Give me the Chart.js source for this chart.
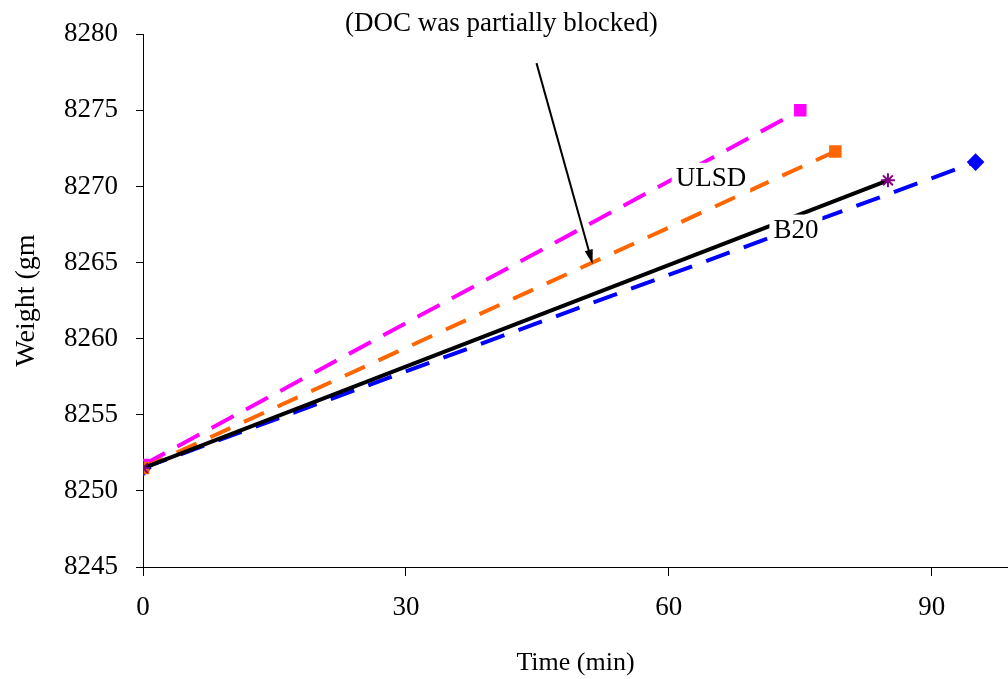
<!DOCTYPE html>
<html>
<head>
<meta charset="utf-8">
<script src="https://cdn.jsdelivr.net/npm/chart.js@4"></script>
<style>
  html, body { margin: 0; padding: 0; background: #fff; }
  #wrap { width: 1008px; height: 679px; position: relative; }
</style>
</head>
<body>
<div id="wrap"><canvas id="weightChart"></canvas></div>
<script>
// values: time (min) -> weight (gm)
const ulsdTime = [0, 75];
const ulsdWeight = [8251.7, 8275.0];
const docTime = [0, 79];
const docWeight = [8251.5, 8272.3];
const b20Time = [0, 85];
const b20Weight = [8251.5, 8270.4];
const blueTime = [0, 95];
const blueWeight = [8251.5, 8271.6];

const xTicks = [0, 30, 60, 90];
const yMin = 8245, yMax = 8280, yStep = 5;
const xMin = 0, xMax = 98.7;

const font = 'Liberation Serif, Times New Roman, serif';

function pts(xs, ys) {
  return xs.map((x, i) => ({ x: x, y: ys[i] }));
}

// text labels + arrow drawn on top of the lines
const notes = {
  id: 'notes',
  afterDatasetsDraw(chart) {
    const ctx = chart.ctx;
    const xs = chart.scales.x, ys = chart.scales.y;
    const px = v => xs.getPixelForValue(v);
    const py = v => ys.getPixelForValue(v);
    ctx.save();
    ctx.font = '27px ' + font;
    ctx.textAlign = 'center';
    ctx.textBaseline = 'middle';

    function boxed(text, x, y) {
      const w = ctx.measureText(text).width;
      ctx.fillStyle = '#fff';
      ctx.fillRect(px(x) - w / 2 - 4, py(y) - 16, w + 8, 32);
      ctx.fillStyle = '#000';
      ctx.fillText(text, px(x), py(y));
    }
    boxed('ULSD', 64.8, 8270.5);
    boxed('B20', 74.5, 8267.1);

    ctx.fillStyle = '#000';
    ctx.fillText('(DOC was partially blocked)', px(40.9), py(8280.7));

    // arrow
    const x0 = px(44.9), y0 = py(8278.1), x1 = px(51.3), y1 = py(8264.9);
    const ang = Math.atan2(y1 - y0, x1 - x0);
    ctx.strokeStyle = '#000';
    ctx.lineWidth = 2;
    ctx.beginPath();
    ctx.moveTo(x0, y0);
    ctx.lineTo(x1 - 10 * Math.cos(ang), y1 - 10 * Math.sin(ang));
    ctx.stroke();
    ctx.beginPath();
    ctx.moveTo(x1, y1);
    ctx.lineTo(x1 - 15 * Math.cos(ang - 0.28), y1 - 15 * Math.sin(ang - 0.28));
    ctx.lineTo(x1 - 15 * Math.cos(ang + 0.28), y1 - 15 * Math.sin(ang + 0.28));
    ctx.closePath();
    ctx.fill();
    ctx.restore();
  }
};

new Chart(document.getElementById('weightChart'), {
  type: 'scatter',
  data: {
    datasets: [
      {
        label: 'blue',
        data: pts(blueTime, blueWeight),
        showLine: true,
        order: 3,
        borderColor: '#0000ff',
        backgroundColor: '#0000ff',
        borderWidth: 4,
        borderDash: [25, 15],
        pointStyle: 'rectRot',
        pointRadius: 6
      },
      {
        label: 'B20',
        data: pts(b20Time, b20Weight),
        showLine: true,
        order: 0,
        borderColor: '#000000',
        backgroundColor: '#800080',
        borderWidth: 4,
        pointStyle: 'star',
        pointBorderColor: '#800080',
        pointBorderWidth: 2,
        pointRadius: 7
      },
      {
        label: 'DOC',
        data: pts(docTime, docWeight),
        showLine: true,
        order: 1,
        borderColor: '#ff6600',
        backgroundColor: '#ff6600',
        borderWidth: 4,
        borderDash: [22, 15],
        pointStyle: 'rect',
        pointRadius: 6
      },
      {
        label: 'ULSD',
        data: pts(ulsdTime, ulsdWeight),
        showLine: true,
        order: 2,
        borderColor: '#ff00ff',
        backgroundColor: '#ff00ff',
        borderWidth: 4,
        borderDash: [25, 14],
        pointStyle: 'rect',
        pointRadius: 6
      }
    ]
  },
  options: {
    responsive: true,
    maintainAspectRatio: false,
    animation: false,
    layout: { autoPadding: false, padding: { top: 31, right: 0, left: 0, bottom: 0 } },
    plugins: {
      legend: { display: false },
      tooltip: { enabled: false }
    },
    scales: {
      x: {
        type: 'linear',
        min: xMin,
        max: xMax,
        afterBuildTicks: s => { s.ticks = xTicks.map(v => ({ value: v })); },
        afterFit: s => { s.height = 112; s.paddingLeft = 0; s.paddingRight = 0; },
        grid: { drawOnChartArea: false, tickLength: 9, color: '#000' },
        border: { color: '#000', width: 1 },
        ticks: { color: '#000', padding: 16, font: { family: font, size: 27 } },
        title: {
          display: true,
          text: 'Time (min)',
          color: '#000',
          font: { family: font, size: 26 },
          padding: { top: 0, bottom: 0 }
        }
      },
      y: {
        min: yMin,
        max: yMax,
        ticks: {
          stepSize: yStep,
          color: '#000',
          padding: 18,
          font: { family: font, size: 27 },
          callback: v => String(v)
        },
        afterFit: s => { s.width = 143; },
        grid: { drawOnChartArea: false, tickLength: 7, color: '#000' },
        border: { color: '#000', width: 1 },
        title: {
          display: true,
          text: 'Weight (gm',
          color: '#000',
          font: { family: font, size: 28 },
          padding: { top: 10, bottom: 0 }
        }
      }
    }
  },
  plugins: [notes]
});
</script>
</body>
</html>
